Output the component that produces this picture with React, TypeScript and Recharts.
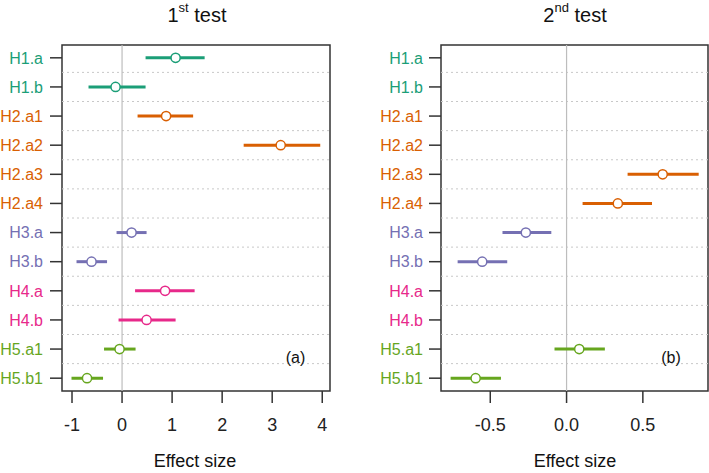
import { ScatterChart, Scatter, XAxis, YAxis, ErrorBar, ReferenceLine, ReferenceArea } from "recharts";

const hypotheses = ["H1.a", "H1.b", "H2.a1", "H2.a2", "H2.a3", "H2.a4", "H3.a", "H3.b", "H4.a", "H4.b", "H5.a1", "H5.b1"];
const hypothesisGroup = ["H1", "H1", "H2", "H2", "H2", "H2", "H3", "H3", "H4", "H4", "H5", "H5"];
const groups = ["H1", "H2", "H3", "H4", "H5"];
const groupColors: Record<string, string> = {
	H1: "#1b9e77",
	H2: "#d95f02",
	H3: "#7570b3",
	H4: "#e7298a",
	H5: "#66a61e",
};

// 1st test
const test1Low = [0.47, -0.67, 0.31, 2.43, null, null, -0.11, -0.91, 0.26, -0.07, -0.36, -1.01];
const test1Mid = [1.07, -0.13, 0.88, 3.17, null, null, 0.19, -0.61, 0.86, 0.49, -0.05, -0.7];
const test1High = [1.65, 0.47, 1.42, 3.96, null, null, 0.49, -0.3, 1.45, 1.07, 0.27, -0.38];
const test1Ticks = [-1, 0, 1, 2, 3, 4];

// 2nd test
const test2Low = [null, null, null, null, 0.4, 0.105, -0.42, -0.714, null, null, -0.079, -0.76];
const test2Mid = [null, null, null, null, 0.63, 0.336, -0.267, -0.553, null, null, 0.083, -0.596];
const test2High = [null, null, null, null, 0.866, 0.56, -0.1, -0.389, null, null, 0.251, -0.43];
const test2Ticks = [-0.5, 0, 0.5];

const FONT = "'Liberation Sans', Arial, Helvetica, sans-serif";
const Y_DOMAIN: [number, number] = [0.56, 12.44];

type Num = number | null;

interface PanelProps {
	low: Num[];
	mid: Num[];
	high: Num[];
	domain: [number, number];
	ticks: number[];
	fmt: (v: number) => string;
	left: number;
	width: number;
	yWidth: number;
	marginRight: number;
	yTickMargin: number;
}

function YTick(props: any) {
	const { x, y, payload } = props;
	const i = Math.round(payload.value) - 1;
	const label = hypotheses[i] ?? "";
	const color = groupColors[hypothesisGroup[i]] ?? "#000";
	return (
		<text x={x} y={y} dy="0.36em" textAnchor="end" fill={color} fontSize={16} fontFamily={FONT}>
			{label}
		</text>
	);
}

function Panel({ low, mid, high, domain, ticks, fmt, left, width, yWidth, marginRight, yTickMargin }: PanelProps) {
	const rows = hypotheses.map((h, i) => ({
		row: i + 1,
		name: h,
		group: hypothesisGroup[i],
		x: mid[i],
		err: mid[i] == null ? null : [mid[i]! - low[i]!, high[i]! - mid[i]!],
	}));
	const separators = hypotheses.slice(0, -1).map((_, i) => i + 1.5);
	return (
		<div style={{ position: "absolute", left, top: 0 }}>
			<ScatterChart width={width} height={473} margin={{ top: 45, right: marginRight, bottom: 42, left: 0 }}>
				<XAxis
					type="number"
					dataKey="x"
					domain={domain}
					allowDataOverflow
					ticks={ticks}
					interval={0}
					tickFormatter={fmt}
					axisLine={false}
					tickSize={12}
					tickMargin={15}
					height={40}
					tickLine={{ stroke: "#333", strokeWidth: 1.5 }}
					tick={{ fill: "#222", fontSize: 18, fontFamily: FONT }}
				/>
				<YAxis
					type="number"
					dataKey="row"
					domain={Y_DOMAIN}
					allowDataOverflow
					reversed
					ticks={hypotheses.map((_, i) => i + 1)}
					interval={0}
					width={yWidth}
					axisLine={false}
					tickSize={12}
					tickMargin={yTickMargin}
					tickLine={{ stroke: "#333", strokeWidth: 1.5 }}
					tick={<YTick />}
				/>
				{separators.map((s) => (
					<ReferenceLine key={s} y={s} stroke="#c8c8c8" strokeDasharray="2 3" strokeWidth={1} />
				))}
				<ReferenceLine x={0} stroke="#bdbdbd" strokeWidth={1.2} />
				{groups.map((g) => {
					const data = rows.filter((r) => r.group === g && r.x != null);
					if (data.length === 0) return null;
					const color = groupColors[g];
					return (
						<Scatter
							key={g}
							data={data}
							isAnimationActive={false}
							shape={(p: any) => (
								<circle cx={p.cx} cy={p.cy} r={4.6} fill="#fff" stroke={color} strokeWidth={1.5} />
							)}
						>
							<ErrorBar dataKey="err" direction="x" width={0} stroke={color} strokeWidth={3} isAnimationActive={false} />
						</Scatter>
					);
				})}
				<ReferenceArea
					x1={domain[0]}
					x2={domain[1]}
					y1={Y_DOMAIN[0]}
					y2={Y_DOMAIN[1]}
					fill="none"
					fillOpacity={0}
					stroke="#333"
					strokeWidth={1.5}
					ifOverflow="visible"
				/>
			</ScatterChart>
		</div>
	);
}

export default function App() {
	return (
		<div style={{ position: "absolute", left: 0, top: 0, width: 709, height: 473, background: "#fff", overflow: "hidden" }}>
			<Panel
				low={test1Low}
				mid={test1Mid}
				high={test1High}
				domain={[-1.2, 4.155]}
				ticks={test1Ticks}
				fmt={(v) => String(v)}
				left={0}
				width={355}
				yWidth={62}
				marginRight={25}
				yTickMargin={7}
			/>
			<Panel
				low={test2Low}
				mid={test2Mid}
				high={test2High}
				domain={[-0.823, 0.927]}
				ticks={test2Ticks}
				fmt={(v) => v.toFixed(1)}
				left={355}
				width={354}
				yWidth={86}
				marginRight={1}
				yTickMargin={6}
			/>
			<svg width={709} height={473} style={{ position: "absolute", left: 0, top: 0, pointerEvents: "none" }} fontFamily={FONT}>
				<text x={197} y={22} textAnchor="middle" fontSize={20} fill="#111">
					1<tspan dy={-10} fontSize={13}>st</tspan>
					<tspan dy={10} fontSize={20}> test</tspan>
				</text>
				<text x={575} y={22} textAnchor="middle" fontSize={20} fill="#111">
					2<tspan dy={-10} fontSize={13}>nd</tspan>
					<tspan dy={10} fontSize={20}> test</tspan>
				</text>
				<text x={195} y={467} textAnchor="middle" fontSize={18} fill="#111">Effect size</text>
				<text x={575} y={467} textAnchor="middle" fontSize={18} fill="#111">Effect size</text>
				<text x={295.5} y={363} textAnchor="middle" fontSize={16} fill="#111">(a)</text>
				<text x={671} y={363} textAnchor="middle" fontSize={16} fill="#111">(b)</text>
			</svg>
		</div>
	);
}
